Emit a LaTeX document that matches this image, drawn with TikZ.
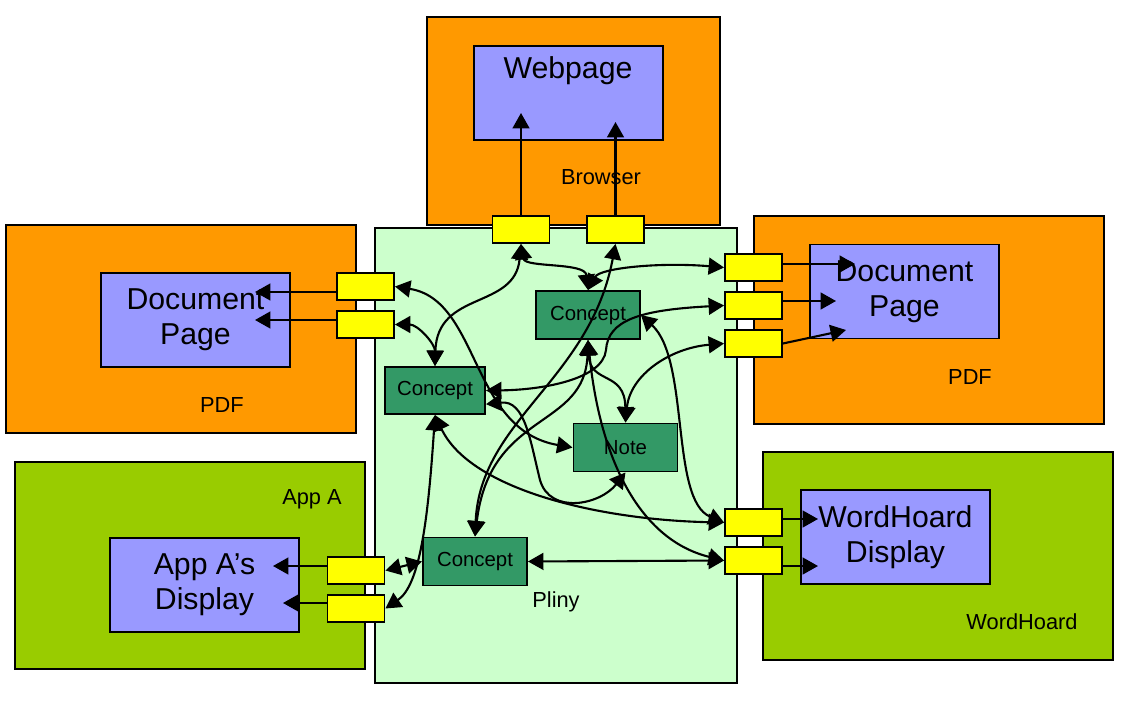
\documentclass[tikz,border=0pt]{standalone}
\usepackage{fontspec}
\setmainfont{Liberation Sans}
\usepackage{xcolor}
\usepackage{tikz}
\usetikzlibrary{arrows.meta}
\definecolor{winorange}{RGB}{255,153,0}
\definecolor{wingreen}{RGB}{153,204,0}
\definecolor{dispblue}{RGB}{153,153,255}
\definecolor{plinybg}{RGB}{204,255,204}
\definecolor{conceptgreen}{RGB}{51,153,102}
\definecolor{portyellow}{RGB}{255,255,0}

\begin{document}
\begin{tikzpicture}[x=0.025cm,y=-0.025cm,
    >={Triangle[length=11pt,width=12pt]},
    wh/.style 2 args={minimum width=#1*0.025cm,minimum height=#2*0.025cm,inner sep=0pt},
    win/.style={draw,line width=1.3pt,fill=winorange},
    wing/.style={draw,line width=1.3pt,fill=wingreen},
    disp/.style={draw,line width=1.3pt,fill=dispblue,align=center,
      font=\fontsize{21.5}{25}\selectfont,wh={189}{94}},
    plinybox/.style={draw,line width=1.3pt,fill=plinybg},
    lbl/.style={font=\fontsize{15.5}{18}\selectfont},
    port/.style={draw,line width=1.3pt,fill=portyellow,wh={57}{27}},
    concept/.style={draw,line width=1.4pt,fill=conceptgreen,wh={104}{48},
      font=\fontsize{14.5}{17}\selectfont},
    link/.style={line width=1.5pt}]
  \fill[white] (0,0) rectangle (1137,709);

  % applications
  \node[win,wh={293}{208}] (browser) at (573.5,121) {};
  \node[disp] (webpage) at (568.5,93) {};
  \node[font=\fontsize{21.5}{25}\selectfont] (webtext) at (568,71) {Webpage};
  \node[lbl] (browsertext) at (601,177) {Browser};

  \node[win,wh={350}{208}] (pdfl) at (181,329) {};
  \node[disp] (docl) at (195.5,320) {Document\\Page};
  \node[lbl] (pdfltext) at (222,405) {PDF};

  \node[win,wh={350}{208}] (pdfr) at (929,320) {};
  \node[disp] (docr) at (904.5,291.5) {Document\\Page};
  \node[lbl] (pdfrtext) at (970,377) {PDF};

  \node[wing,wh={350}{207}] (appa) at (190,565.5) {};
  \node[disp] (dispa) at (204.5,585) {App A’s\\Display};
  \node[lbl] (appatext) at (312,499) {App A};

  \node[wing,wh={350}{208}] (wordhoard) at (938,556) {};
  \node[disp] (dispw) at (895.5,537) {WordHoard\\Display};
  \node[lbl] (wordhoardtext) at (1022,622) {WordHoard};

  \node[plinybox,wh={362}{455}] (pliny) at (556,455.5) {};
  \node[lbl] (plinytext) at (556,602) {Pliny};

  % ports
  \node[port] (b1) at (521,229.5) {};
  \node[port] (b2) at (615.5,229.5) {};
  \node[port] (l1) at (365.5,286.5) {};
  \node[port] (l2) at (365.5,324.5) {};
  \node[port] (r1) at (753.5,267.5) {};
  \node[port] (r2) at (753.5,305.5) {};
  \node[port] (r3) at (753.5,343.5) {};
  \node[port] (a1) at (356,570.5) {};
  \node[port] (a2) at (356,608.5) {};
  \node[port] (w1) at (753.5,522.5) {};
  \node[port] (w2) at (753.5,560.5) {};

  % pliny objects
  \node[concept] (c1) at (588,315) {Concept};
  \node[concept,wh={100}{47}] (c2) at (435,390.5) {Concept};
  \node[concept] (note) at (625.5,447.5) {Note};
  \node[concept] (c3) at (475,561.5) {Concept};

  % ends inside the displays
  \coordinate (wp1) at (521,113);
  \coordinate (wp2) at (615.5,122);
  \coordinate (dl1) at (255,292);
  \coordinate (dl2) at (255,320);
  \coordinate (dr1) at (855,264);
  \coordinate (dr2) at (836,301);
  \coordinate (dr3) at (846,330);
  \coordinate (da1) at (273,566);
  \coordinate (da2) at (283,603);
  \coordinate (dw1) at (818,519);
  \coordinate (dw2) at (818,566);

  \path[link,->]
    (b1.north) edge (wp1)
    (b2.north) edge (wp2)
    (l1.west |- dl1) edge (dl1)
    (l2.west |- dl2) edge (dl2)
    (r1.east |- dr1) edge (dr1)
    (r2.east |- dr2) edge (dr2)
    (r3.east) edge (dr3)
    (a1.west |- da1) edge (da1)
    (a2.west |- da2) edge (da2)
    (w1.east |- dw1) edge (dw1)
    (w2.east |- dw2) edge (dw2);

  % links
  \draw[link,<->] (b1.south) .. controls (515,310) and (437,290) .. (c2.north);
  \draw[link,<->] (b1.south) .. controls (525,268) and (585,262) .. (c1.north);
  \draw[link,<->] (r1.west) .. controls (660,262) and (600,268) .. (c1.north);
  \draw[link,<->] (l1.east) .. controls (480,300) and (470,430) .. (note.west);
  \draw[link,<->] (l2.east) to[out=0,in=90] (c2.north);
  \draw[link,<->] (c1.south) .. controls (590,385) and (625,370) .. (note.north);
  \draw[link,<->] (r3.west) .. controls (670,348) and (630,375) .. (note.north);
  \draw[link,<->] (r2.west) .. controls (640,310) and (608,320) .. (606,350)
    .. controls (603,380) and (540,390) .. (c2.east);
  \draw[link,<->] (c2.-15) .. controls (525,400) and (530,440) .. (540,480)
    .. controls (550,515) and (600,505) .. (note.south);
  \draw[link,<->] (b2.south) .. controls (590,380) and (480,420) .. (c3.north);
  \draw[link,<->] (c1.south) .. controls (585,430) and (490,410) .. (c3.north);
  \draw[link,<->] (c1.south) .. controls (600,460) and (640,540) .. (w2.west);
  \draw[link,<->] (c1.east) .. controls (690,360) and (670,500) .. (w1.west);
  \draw[link,<->] (c2.south) .. controls (470,490) and (600,520) .. (w1.west);
  \draw[link,<->] (c2.south) .. controls (428,520) and (420,585) .. (a2.east);
  \draw[link,<->] (a1.east) -- (c3.west);
  \draw[link,<->] (c3.east) -- (w2.west);
\end{tikzpicture}
\end{document}
